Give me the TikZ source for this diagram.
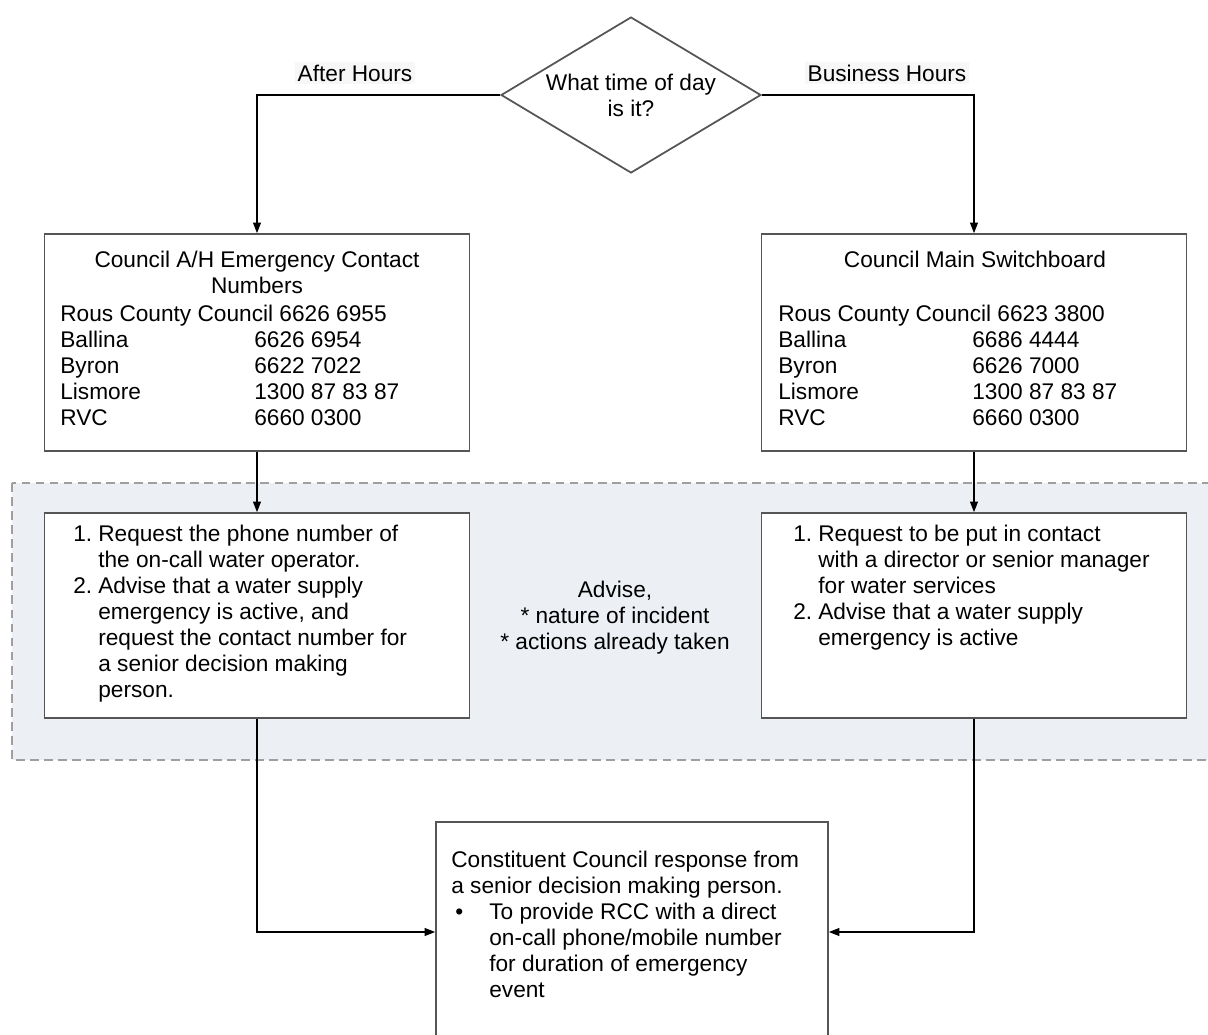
\documentclass[tikz,border=0pt]{standalone}
\usepackage{fontspec}
\setmainfont{Liberation Sans}
\usetikzlibrary{shapes.geometric, arrows.meta, positioning, backgrounds}
\definecolor{zonecolor}{RGB}{236, 239, 244}
\definecolor{edgecolor}{RGB}{85, 85, 85}
\newcommand{\phoneline}[2]{\makebox[3.88cm][l]{#1}#2}
\newcommand{\stepno}[1]{\makebox[0.5cm][l]{#1}}
\newcommand{\stephang}{\hspace*{0.5cm}}

\begin{document}
\begin{tikzpicture}[
    x=0.02cm, y=-0.02cm,
    font=\fontsize{12.9}{14.8}\selectfont,
    decision/.style={draw=edgecolor, diamond, aspect=1.67, line width=1pt, minimum width=5.2cm, minimum height=3.12cm, inner sep=0pt, align=center},
    infobox/.style={draw=edgecolor, fill=white, line width=1pt, minimum width=8.5cm, minimum height=4.34cm},
    stepbox/.style={draw=edgecolor, fill=white, line width=1pt, minimum width=8.5cm, minimum height=4.1cm},
    resultbox/.style={draw=edgecolor, fill=white, line width=1pt, minimum width=7.84cm, minimum height=4.4cm},
    branch/.style={fill=gray!6, inner sep=1.5pt},
    txt/.style={inner sep=0pt, align=left},
    zone/.style={draw=gray!75, fill=zonecolor, dashed, dash pattern=on 5pt off 3pt, line width=1pt},
    arrow/.style={-{Triangle[length=6pt, width=4.5pt]}, line width=0.7pt}
]
    \useasboundingbox (0,0) rectangle (1208,1035);

    % Decision
    \node[decision] (decision) at (631, 95) {What time of day\\is it?};
    \node[branch] (afterhours) at (355, 73) {After Hours};
    \node[branch] (businesshours) at (887, 73) {Business Hours};

    % Contact numbers
    \node[infobox] (ahbox) at (257, 342.5) {};
    \node[txt, align=center, anchor=north] (ahtitle) at (257, 251) {Council A/H Emergency Contact\\Numbers};
    \node[txt, anchor=north west] (ahlist) at (60, 305) {Rous County Council 6626 6955\\
        \phoneline{Ballina}{6626 6954}\\
        \phoneline{Byron}{6622 7022}\\
        \phoneline{Lismore}{1300 87 83 87}\\
        \phoneline{RVC}{6660 0300}};

    \node[infobox] (bhbox) at (974, 342.5) {};
    \node[txt, anchor=north] (bhtitle) at (975, 251) {Council Main Switchboard};
    \node[txt, anchor=north west] (bhlist) at (778, 305) {Rous County Council 6623 3800\\
        \phoneline{Ballina}{6686 4444}\\
        \phoneline{Byron}{6626 7000}\\
        \phoneline{Lismore}{1300 87 83 87}\\
        \phoneline{RVC}{6660 0300}};

    % Advice zone
    \begin{scope}[on background layer]
        \draw[zone] (12, 483) rectangle (1220, 760);
    \end{scope}
    \node[txt, align=center, anchor=north] (advise) at (615, 581) {Advise,\\* nature of incident\\* actions already taken};

    \node[stepbox] (ahsteps) at (257, 615.5) {};
    \node[txt, anchor=north west] (ahtext) at (73, 525) {\stepno{1.}Request the phone number of\\
        \stephang the on-call water operator.\\
        \stepno{2.}Advise that a water supply\\
        \stephang emergency is active, and\\
        \stephang request the contact number for\\
        \stephang a senior decision making\\
        \stephang person.};

    \node[stepbox] (bhsteps) at (974, 615.5) {};
    \node[txt, anchor=north west] (bhtext) at (793, 525) {\stepno{1.}Request to be put in contact\\
        \stephang with a director or senior manager\\
        \stephang for water services\\
        \stepno{2.}Advise that a water supply\\
        \stephang emergency is active};

    % Response
    \node[resultbox] (response) at (632, 932) {};
    \node[txt, anchor=north west] (responsetext) at (451, 851) {Constituent Council response from\\
        a senior decision making person.\\
        \makebox[0.76cm][l]{\hspace{0.08cm}\textbullet}To provide RCC with a direct\\
        \hspace*{0.76cm}on-call phone/mobile number\\
        \hspace*{0.76cm}for duration of emergency\\
        \hspace*{0.76cm}event};

    % Connections
    \draw[arrow] (decision.west) -| (ahbox.north);
    \draw[arrow] (decision.east) -| (bhbox.north);
    \draw[arrow] (ahbox) -- (ahsteps);
    \draw[arrow] (bhbox) -- (bhsteps);
    \draw[arrow] (ahsteps.south) |- (response.west);
    \draw[arrow] (bhsteps.south) |- (response.east);

\end{tikzpicture}
\end{document}
